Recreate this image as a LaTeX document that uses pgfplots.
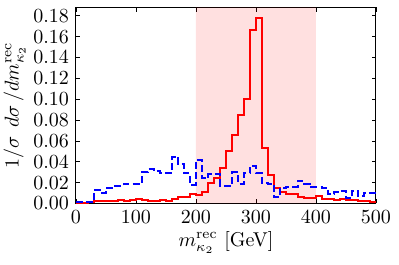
\documentclass[border=0pt]{standalone}
\usepackage{pgfplots}
\pgfplotsset{compat=1.18}
\usetikzlibrary{calc}
\pgfplotstableread{
x y
0 0.000
10 0.000
20 0.001
30 0.002
40 0.002
50 0.002
60 0.002
70 0.003
80 0.002
90 0.003
100 0.004
110 0.003
120 0.002
130 0.002
140 0.003
150 0.002
160 0.004
170 0.006
180 0.006
190 0.009
200 0.008
210 0.011
220 0.020
230 0.024
240 0.034
250 0.050
260 0.066
270 0.085
280 0.100
290 0.166
300 0.178
310 0.053
320 0.027
330 0.015
340 0.011
350 0.009
360 0.009
370 0.006
380 0.005
390 0.005
400 0.007
410 0.004
420 0.004
430 0.003
440 0.004
450 0.003
460 0.003
470 0.002
480 0.002
490 0.001
500 0.001
}\redtab
\pgfplotstableread{
x y
0 0.001
10 0.001
20 0.001
30 0.013
40 0.010
50 0.015
60 0.017
70 0.017
80 0.019
90 0.019
100 0.019
110 0.030
120 0.033
130 0.031
140 0.029
150 0.029
160 0.045
170 0.038
180 0.029
190 0.018
200 0.042
210 0.024
220 0.028
230 0.028
240 0.017
250 0.017
260 0.030
270 0.019
280 0.029
290 0.036
300 0.029
310 0.020
320 0.019
330 0.006
340 0.015
350 0.016
360 0.016
370 0.022
380 0.019
390 0.016
400 0.016
410 0.015
420 0.009
430 0.011
440 0.012
450 0.005
460 0.012
470 0.007
480 0.010
490 0.010
500 0.010
}\bluetab
\begin{document}
\begin{tikzpicture}
\begin{axis}[
  name=ax,
  scale only axis,
  width=150pt, height=98pt,
  xmin=0, xmax=500, ymin=0, ymax=0.188,
  xtick={0,100,...,500},
  ytick={0,0.02,...,0.18},
  yticklabel style={/pgf/number format/.cd, fixed, fixed zerofill, precision=2},
  scaled y ticks=false,
  tick align=inside,
  major tick length=2.2pt,
  tick style={black, line width=0.4pt},
  axis line style={black, line width=0.5pt},
  every tick label/.append style={font=\normalsize},
  xlabel={$m^{\rm rec}_{\kappa_2}$ [GeV]},
  ylabel={$1/\sigma\;\,d\sigma\,/dm^{\rm rec}_{\kappa_2}$},
  xlabel style={yshift=3pt},
  ylabel style={yshift=-3pt},
  clip=true,
]
\addplot[draw=none, fill=red, fill opacity=0.12] coordinates {(200,0) (200,0.188) (400,0.188) (400,0)} \closedcycle;
\addplot[const plot, red, line width=1pt] table {\redtab};
\addplot[const plot, blue, line width=1pt, dash pattern=on 3.5pt off 1.6pt] table {\bluetab};
\end{axis}
\pgfresetboundingbox
\path ($(ax.south west)+(-38pt,-30.5pt)$) rectangle ($(ax.north east)+(11.5pt,3.75pt)$);
\end{tikzpicture}
\end{document}
